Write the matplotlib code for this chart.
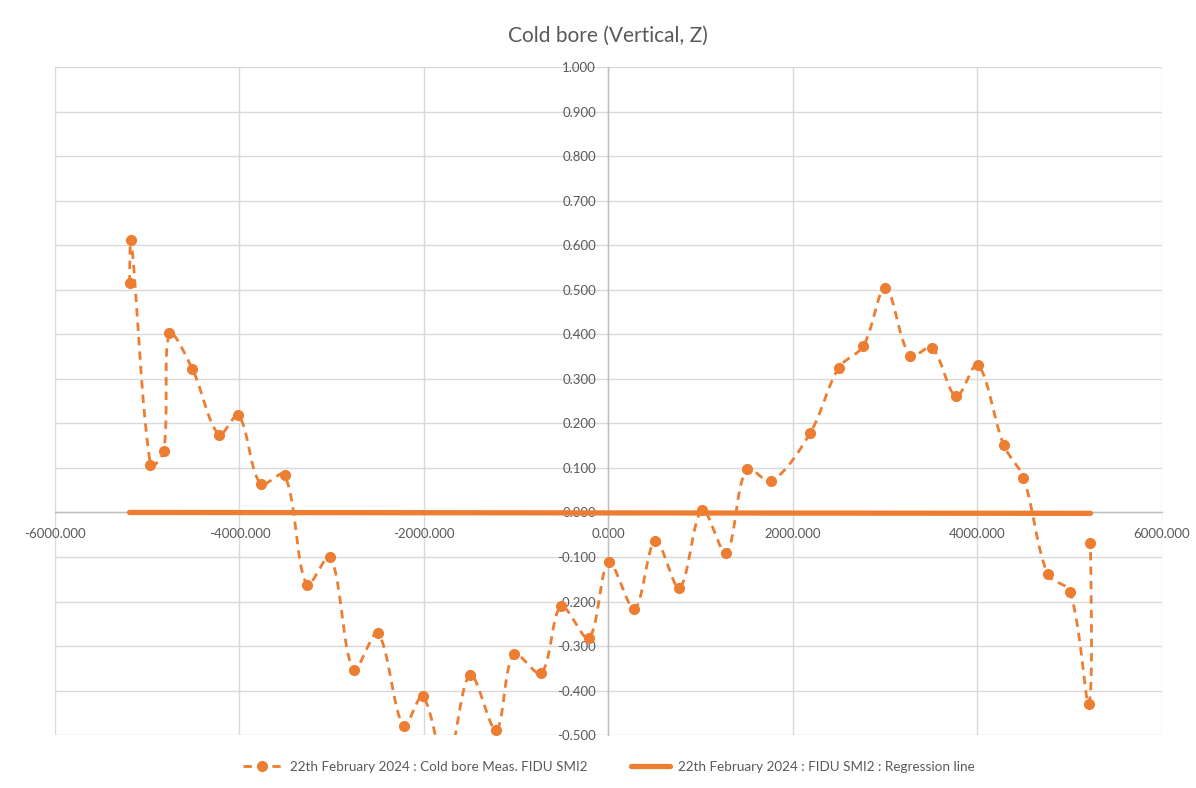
import numpy as np
import matplotlib
matplotlib.use('Agg')
import matplotlib.pyplot as plt
from matplotlib.lines import Line2D

x_pos = [-5192, -5174, -4965, -4821, -4759, -4513, -4224, -4011, -3772, -3512,
         -3270, -3017, -2764, -2501, -2222, -2013, -1760, -1500, -1218, -1026,
         -730, -513, -213, 3, 282, 509, 770, 1016, 1276, 1499,
         1764, 2186, 2497, 2764, 3003, 3270, 3505, 3769, 4003, 4285,
         4499, 4762, 5005, 5207, 5225]
z_meas = [0.514, 0.611, 0.106, 0.138, 0.402, 0.323, 0.175, 0.218, 0.064, 0.085,
          -0.162, -0.099, -0.353, -0.271, -0.479, -0.413, -0.570, -0.364, -0.488, -0.318,
          -0.361, -0.211, -0.282, -0.112, -0.216, -0.063, -0.169, 0.006, -0.091, 0.098,
          0.070, 0.178, 0.325, 0.374, 0.504, 0.351, 0.370, 0.261, 0.332, 0.151,
          0.078, -0.139, -0.178, -0.430, -0.069]

reg_x = [-5192, 5225]
reg_z = [0.000, -0.002]

x_ticks = [-6000, -4000, -2000, 0, 2000, 4000, 6000]
y_ticks = [-0.5, -0.4, -0.3, -0.2, -0.1, 0.0, 0.1, 0.2, 0.3, 0.4, 0.5, 0.6, 0.7, 0.8, 0.9, 1.0]

title = 'Cold bore (Vertical, Z)'
lab_meas = '22th February 2024 : Cold bore Meas. FIDU SMI2'
lab_reg = '22th February 2024 : FIDU SMI2 : Regression line'

orange = '#ED7D31'
grey_txt = '#595959'
grid_col = '#d9d9d9'

plt.rcParams['font.family'] = ['Lato', 'DejaVu Sans']


def smooth(xs, ys, sx=0.0922, sy=445.0, n=24):
    # smoothed line like excel, done in (approx) screen units so short
    # segments don't overshoot
    p = np.column_stack([np.asarray(xs) * sx, np.asarray(ys) * sy]).astype(float)
    m = len(p)
    cin = p.copy()
    cout = p.copy()
    for i in range(1, m - 1):
        tg = p[i + 1] - p[i - 1]
        dp = np.hypot(*(p[i] - p[i - 1]))
        dn = np.hypot(*(p[i + 1] - p[i]))
        tot = dp + dn
        if tot == 0:
            continue
        cout[i] = p[i] + tg * dn / tot / 3
        cin[i] = p[i] - tg * dp / tot / 3
    cout[0] = p[0] + (cin[1] - p[0]) / 2
    cin[-1] = p[-1] + (cout[-2] - p[-1]) / 2
    t = np.linspace(0, 1, n)[:, None]
    out = [p[:1]]
    for i in range(m - 1):
        a, b1, b2, b = p[i], cout[i], cin[i + 1], p[i + 1]
        seg = ((1 - t) ** 3) * a + 3 * ((1 - t) ** 2) * t * b1 + 3 * (1 - t) * t ** 2 * b2 + t ** 3 * b
        out.append(seg[1:])
    out = np.vstack(out)
    return out[:, 0] / sx, out[:, 1] / sy


fig = plt.figure(figsize=(11.96, 7.88), dpi=100)
ax = fig.add_axes([0.046, 0.067, 0.9255, 0.848])

cx, cy = smooth(x_pos, z_meas)
ax.plot(cx, cy, color=orange, lw=2.0, dashes=(3, 2.2), zorder=3)
ax.plot(x_pos, z_meas, 'o', color=orange, ms=7, zorder=4)
ax.plot(reg_x, reg_z, color=orange, lw=3.8, solid_capstyle='round', zorder=5)

ax.set_xlim(-6000, 6000)
ax.set_ylim(-0.5, 1.0)
ax.set_xticks(x_ticks)
ax.set_yticks(y_ticks)
ax.set_xticklabels(['%.3f' % v for v in x_ticks])
ax.set_yticklabels(['%.3f' % v for v in y_ticks])
ax.grid(True, color=grid_col, lw=1.0, zorder=0)
ax.set_axisbelow(True)

ax.spines['left'].set_position(('data', 0))
ax.spines['bottom'].set_position(('data', 0))
ax.spines['top'].set_visible(False)
ax.spines['right'].set_visible(False)
for s in ('left', 'bottom'):
    ax.spines[s].set_color('#bfbfbf')
    ax.spines[s].set_linewidth(1.0)
    ax.spines[s].set_zorder(1)
ax.tick_params(length=0, labelsize=9.5, colors=grey_txt)
ax.tick_params(axis='x', pad=11)
ax.tick_params(axis='y', pad=9)

fig.text(0.508, 0.955, title, ha='center', va='center', fontsize=15, color=grey_txt)

h1 = Line2D([], [], color=orange, lw=2.0, dashes=(3, 2.2), marker='o', ms=7)
h2 = Line2D([], [], color=orange, lw=3.8, solid_capstyle='round')
fig.legend([h1, h2], [lab_meas, lab_reg], loc='center', bbox_to_anchor=(0.509, 0.027),
           ncol=2, frameon=False, fontsize=9.7, labelcolor=grey_txt,
           columnspacing=3.2, handlelength=2.9, handletextpad=0.6)

fig.savefig('out.png', dpi=100)
